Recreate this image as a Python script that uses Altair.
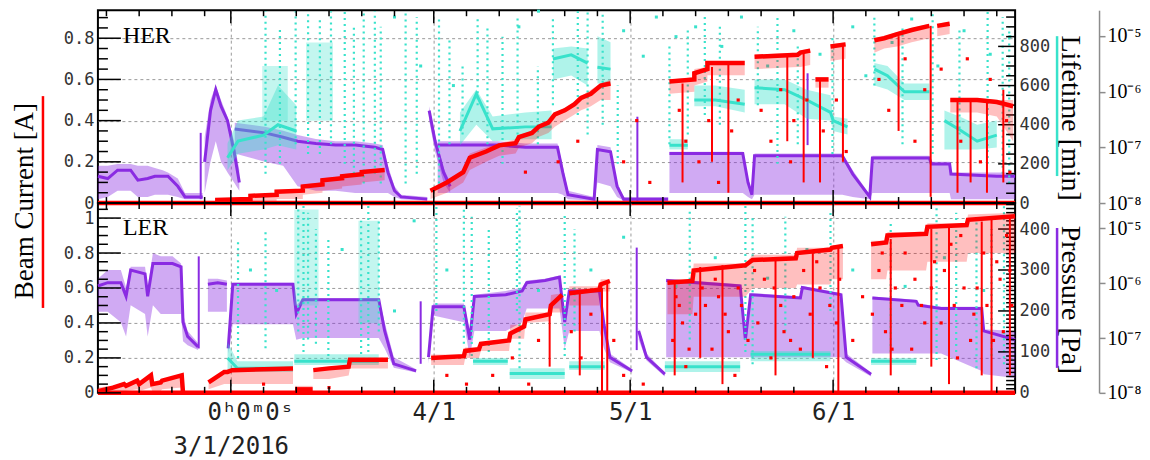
import altair as alt
import pandas as pd

# ---------------------------------------------------------------------------
# Data.  "day" = days since 2016-03-01 00:00.
# Bands: (segment, day, core, low, high)   spikes: (day, low, high)
# Current in A, lifetime in minutes, pressure as log10(P [Pa]).
# ---------------------------------------------------------------------------
HER_RED = [
    (0, -20.3, 0, 0, 0), (0, 119.8, 0, 0, 0),
    (1, -2.4, .015, .0, .02), (1, 3.0, .02, .0, .03), (1, 3.0, .035, .01, .04), (1, 7.0, .04, .01, .05),
    (1, 7.0, .055, .02, .06), (1, 11.0, .06, .02, .07), (1, 11.0, .08, .04, .09), (1, 14.0, .09, .05, .10),
    (1, 14.0, .11, .06, .12), (1, 17.0, .12, .07, .13), (1, 17.0, .13, .08, .14), (1, 20.0, .14, .09, .15),
    (1, 20.0, .15, .10, .16), (1, 23.5, .16, .11, .17),
    (2, 30.5, .06, .02, .07), (2, 33.0, .10, .05, .11), (2, 35.5, .15, .10, .16), (2, 36.5, .22, .16, .24),
    (2, 39.0, .25, .20, .27), (2, 41.0, .28, .23, .29), (2, 43.5, .29, .24, .31), (2, 44.0, .32, .27, .33),
    (2, 46.0, .34, .29, .35), (2, 47.0, .37, .32, .38), (2, 48.5, .39, .34, .40), (2, 49.5, .43, .37, .44),
    (2, 51.0, .45, .40, .46), (2, 52.5, .48, .43, .49), (2, 53.5, .51, .45, .52), (2, 55.0, .53, .47, .55),
    (2, 56.5, .57, .50, .58), (2, 58.0, .58, .50, .60),
    (3, 67.0, .59, .53, .60), (3, 70.8, .60, .54, .61), (3, 70.8, .63, .57, .65), (3, 72.8, .65, .59, .66),
    (3, 72.8, .68, .62, .69), (3, 78.5, .68, .62, .69),
    (4, 80.0, .71, .65, .72), (4, 86.6, .72, .66, .73), (4, 87.0, .73, .66, .74), (4, 88.5, .74, .67, .75),
    (5, 89.3, .60, .56, .61), (5, 91.3, .60, .56, .61),
    (6, 91.6, .76, .69, .77), (6, 93.9, .77, .70, .78),
    (7, 98.3, .79, .73, .80), (7, 99.8, .80, .75, .81), (7, 101.8, .82, .76, .83), (7, 104.0, .84, .78, .85),
    (7, 106.7, .86, .80, .87),
    (8, 107.9, .86, .81, .87), (8, 109.8, .87, .82, .88),
    (9, 109.9, .50, .44, .51), (9, 114.0, .50, .44, .51), (9, 117.0, .49, .42, .50), (9, 119.5, .47, .30, .50),
]
HER_RED_SPIKES = [
    (69.0, .10, .58), (73.5, .20, .66), (76.0, .05, .67), (85.0, .30, .71), (87.5, .10, .74), (90.0, .10, .60),
    (93.5, .20, .77), (102.0, .35, .81), (106.9, .03, .86), (111.0, .05, .50), (113.0, .10, .50),
    (115.5, .05, .50), (118.0, .10, .55),
]
HER_RED_DOTS = [
    (45.0, .15), (50.0, .20), (53.0, .30), (60.0, .20), (62.0, .40), (64.0, .10), (68.5, .45), (69.5, .30),
    (71.5, .20), (73.0, .40), (74.5, .10), (76.5, .35), (77.5, .50), (81.0, .45), (82.5, .30), (84.0, .55),
    (85.5, .20), (86.0, .40), (88.0, .50), (90.5, .35), (92.5, .50), (94.0, .25), (99.0, .60), (100.5, .45),
    (103.0, .70), (104.5, .30), (106.0, .55), (108.5, .65), (111.5, .30), (112.5, .70), (114.5, .20),
    (116.0, .60), (118.5, .40), (119.0, .15),
]

HER_TEAL = [
    (1, -0.5, 231, 168, 305), (1, 1.1, 316, 252, 421), (1, 5.0, 347, 274, 442), (1, 7.2, 400, 295, 600),
    (1, 10.0, 368, 274, 500),
    (3, 35.0, 368, 295, 463), (3, 37.5, 558, 400, 580), (3, 40.0, 379, 316, 442), (3, 45.0, 389, 326, 463),
    (3, 49.0, 389, 326, 473),
    (4, 49.2, 736, 631, 789), (4, 52.0, 757, 652, 800), (4, 54.5, 715, 600, 789),
    (5, 56.0, 694, 610, 852), (5, 58.0, 684, 610, 821),
    (6, 67.0, 295, 274, 326), (6, 69.8, 295, 274, 326),
    (7, 70.8, 526, 494, 600), (7, 74.0, 526, 494, 600), (7, 78.5, 505, 463, 579),
    (8, 80.0, 589, 505, 631), (8, 84.6, 579, 505, 631), (8, 88.0, 526, 431, 579), (8, 91.6, 463, 421, 550),
    (8, 92.0, 421, 368, 442), (8, 94.2, 389, 350, 430),
    (9, 98.3, 684, 600, 715), (9, 100.3, 650, 580, 700), (9, 102.9, 568, 526, 610), (9, 106.7, 568, 526, 610),
    (10, 109.0, 421, 274, 473), (10, 111.5, 370, 274, 440), (10, 114.0, 316, 274, 400), (10, 117.0, 347, 284, 421),
]
HER_TEAL_CLOUDS = [
    (1, 4.8, 420, 700), (1, 8.7, 420, 700),
    (2, 11.5, 420, 820), (2, 15.6, 420, 820),
]
HER_TEAL_STREAKS = [
    (5.3, 150, 980), (7.5, 200, 900), (9.9, 300, 980), (11.8, 250, 980), (13.6, 250, 950), (15.3, 300, 980),
    (17.4, 200, 980), (18.8, 150, 900), (20.3, 100, 980), (22.0, 150, 980), (22.9, 100, 900), (26.7, 100, 980),
    (28.4, 150, 950), (31.8, 100, 950), (33.4, 300, 850), (35.4, 350, 700), (37.7, 500, 950), (39.2, 300, 900),
    (41.5, 200, 850), (43.8, 350, 950), (46.9, 300, 700), (49.2, 500, 950), (53.0, 450, 980), (54.5, 350, 980),
    (56.8, 400, 980), (59.1, 200, 600), (67.0, 300, 800), (69.8, 350, 900), (72.4, 450, 950), (74.7, 400, 900),
    (80.5, 500, 900), (83.5, 200, 950), (86.6, 300, 800), (91.9, 250, 850), (98.3, 600, 950), (102.6, 300, 900),
    (107.2, 250, 980), (111.3, 350, 900), (115.6, 200, 980), (117.9, 150, 950), (118.9, 100, 900),
]
HER_TEAL_DOTS = [
    (25.0, 950), (29.0, 700), (34.0, 600), (44.0, 900), (47.0, 980), (60.0, 880), (63.0, 750), (65.0, 950),
    (68.0, 850), (71.0, 900), (75.0, 800), (78.0, 950), (82.0, 700), (86.0, 880), (90.0, 760), (95.0, 900),
    (97.0, 650), (101.0, 820), (104.0, 940), (108.0, 700), (112.0, 880), (116.0, 760), (119.0, 850),
]

HER_PURPLE = [
    (1, -20.3, -7.52, -7.93, -7.33), (1, -18.8, -7.56, -7.89, -7.33), (1, -17.3, -7.41, -7.78, -7.30),
    (1, -15.3, -7.41, -7.78, -7.30), (1, -14.2, -7.59, -7.89, -7.33), (1, -12.7, -7.56, -7.89, -7.33),
    (1, -11.6, -7.52, -7.85, -7.37), (1, -10.4, -7.52, -7.85, -7.41), (1, -9.6, -7.52, -7.85, -7.45),
    (1, -8.1, -7.70, -7.89, -7.56), (1, -7.0, -7.89, -7.93, -7.82), (1, -4.3, -7.89, -7.93, -7.82),
    (2, -4.0, -7.26, -7.82, -6.82), (2, -3.1, -6.34, -7.26, -6.15), (2, -2.3, -5.96, -6.89, -5.89),
    (2, -1.5, -6.26, -7.26, -6.15), (2, -0.5, -6.52, -7.45, -6.45), (2, 0.5, -7.08, -7.63, -6.89),
    (2, 1.3, -7.63, -7.78, -7.41),
    (3, 0.6, -6.67, -7.11, -6.56), (3, 5.2, -6.74, -7.26, -6.63), (3, 8.0, -6.82, -7.33, -6.70),
    (3, 10.2, -6.89, -7.70, -6.78), (3, 13.0, -6.93, -7.78, -6.85), (3, 16.0, -6.96, -7.78, -6.89),
    (3, 19.0, -6.96, -7.82, -6.89), (3, 22.0, -7.00, -7.82, -6.93), (3, 23.2, -7.04, -7.82, -6.96),
    (3, 24.0, -7.45, -7.82, -7.33), (3, 25.0, -7.78, -7.89, -7.70), (3, 26.0, -7.89, -7.93, -7.85),
    (3, 30.0, -7.93, -7.96, -7.89),
    (4, 30.3, -6.34, -6.52, -6.26), (4, 31.2, -6.89, -7.08, -6.78), (4, 32.5, -7.45, -7.63, -7.37),
    (4, 33.5, -7.70, -7.82, -7.63),
    (5, 31.6, -6.96, -7.82, -6.89), (5, 40.8, -6.96, -7.82, -6.89), (5, 45.0, -7.00, -7.82, -6.93),
    (5, 49.9, -7.00, -7.82, -6.93), (5, 50.7, -7.45, -7.85, -7.33), (5, 51.5, -7.85, -7.93, -7.78),
    (5, 55.5, -7.93, -7.96, -7.89), (5, 56.0, -7.04, -7.63, -6.96), (5, 58.0, -7.08, -7.70, -7.00),
    (5, 59.0, -7.70, -7.89, -7.63), (5, 60.0, -7.93, -7.96, -7.89), (5, 66.8, -7.93, -7.96, -7.89),
    (6, 67.0, -7.11, -7.82, -7.08), (6, 78.2, -7.11, -7.82, -7.08), (6, 79.0, -7.63, -7.89, -7.56),
    (6, 79.6, -7.85, -7.93, -7.82), (6, 80.0, -7.15, -7.85, -7.11), (6, 93.4, -7.15, -7.85, -7.11),
    (6, 95.0, -7.48, -7.89, -7.41), (6, 97.6, -7.89, -7.93, -7.85), (6, 98.0, -7.19, -7.82, -7.15),
    (6, 106.7, -7.19, -7.82, -7.15), (6, 107.0, -7.30, -7.82, -7.26), (6, 109.8, -7.30, -7.82, -7.26),
    (6, 110.0, -7.48, -7.93, -7.45), (6, 117.0, -7.52, -7.93, -7.45), (6, 119.8, -7.52, -7.93, -7.45),
]
HER_PURPLE_SPIKES = [(-4.6, -7.93, -6.74), (62.1, -7.96, -6.45), (88.1, -6.96, -5.67)]

LER_RED = [
    (0, -20.3, 0, 0, 0), (0, 119.8, 0, 0, 0),
    (1, -20.3, .01, .0, .03), (1, -18.0, .03, .0, .04), (1, -16.3, .05, .01, .06), (1, -16.0, .04, .01, .05),
    (1, -14.3, .07, .02, .08), (1, -14.0, .05, .01, .06), (1, -12.2, .10, .03, .11), (1, -12.0, .05, .01, .06),
    (1, -10.7, .06, .01, .07), (1, -10.5, .07, .02, .08), (1, -7.5, .10, .03, .10), (1, -7.3, .0, .0, .01),
    (2, -3.4, .06, .02, .07), (2, -1.0, .12, .05, .12), (2, -0.5, .12, .05, .12), (2, 0.2, .13, .05, .14),
    (2, 9.5, .14, .05, .15),
    (3, 9.8, .02, .0, .04), (3, 12.5, .02, .0, .04),
    (4, 12.6, .13, .08, .14), (4, 15.0, .14, .08, .15), (4, 18.0, .15, .10, .16), (4, 18.2, .19, .14, .20),
    (4, 24.0, .19, .14, .20),
    (5, 30.6, .20, .16, .22), (5, 35.6, .21, .16, .22), (5, 35.8, .24, .20, .26), (5, 37.9, .25, .20, .26),
    (5, 38.2, .28, .24, .29), (5, 42.5, .30, .24, .31), (5, 42.7, .34, .31, .39), (5, 44.8, .38, .31, .39),
    (5, 45.0, .42, .40, .46), (5, 48.7, .45, .41, .46), (5, 48.9, .50, .46, .56), (5, 50.6, .56, .46, .57),
    (6, 51.7, .57, .50, .61), (6, 56.3, .59, .50, .61), (6, 56.5, .62, .58, .65), (6, 57.9, .64, .58, .65),
    (7, 66.7, .63, .45, .65), (7, 70.5, .64, .45, .65), (7, 70.7, .70, .55, .74), (7, 78.6, .73, .55, .74),
    (7, 79.7, .76, .60, .79), (7, 86.3, .77, .60, .79), (7, 86.5, .80, .62, .83), (7, 91.6, .82, .62, .83),
    (7, 91.8, .83, .65, .84), (7, 93.5, .84, .65, .85),
    (8, 97.8, .85, .65, .87), (8, 100.1, .86, .65, .87), (8, 100.3, .90, .70, .92), (8, 106.2, .91, .70, .92),
    (8, 106.4, .95, .75, .97), (8, 112.4, .96, .75, .97), (8, 112.6, .99, .80, 1.02), (8, 119.8, 1.01, .80, 1.03),
]
LER_RED_SPIKES = [
    (48.7, .15, .45), (53.3, .10, .59), (56.7, .0, .60), (57.5, .0, .64), (67.8, .10, .63), (71.7, .20, .72),
    (75.1, .05, .73), (83.2, .10, .77), (88.9, .20, .80), (92.8, .0, .84), (100.8, .10, .88), (107.0, .15, .94),
    (109.7, .05, .95), (114.7, .10, .98), (116.2, .0, .99), (119.0, .10, 1.0),
]
LER_RED_DOTS = [
    (5.0, .05), (15.0, .03), (33.0, .10), (36.0, .05), (40.0, .10), (43.0, .20), (45.5, .05), (47.0, .30),
    (52.0, .35), (53.5, .20), (55.0, .45), (58.5, .30), (60.0, .10), (63.0, .05), (67.5, .30), (68.5, .50),
    (69.5, .15), (71.0, .45), (72.0, .60), (73.5, .25), (74.5, .55), (76.0, .35), (77.0, .10), (78.0, .50),
    (80.5, .40), (81.5, .65), (82.5, .20), (84.0, .50), (85.5, .30), (87.5, .70), (88.5, .45), (90.0, .60),
    (91.0, .15), (92.5, .40), (95.0, .30), (96.5, .55), (99.0, .70), (100.0, .35), (101.5, .60), (103.0, .80),
    (104.0, .25), (105.5, .50), (107.5, .75), (108.5, .40), (110.0, .85), (111.0, .20), (112.0, .60),
    (113.5, .45), (115.0, .80), (116.5, .30), (117.5, .65), (118.5, .90), (119.3, .50),
    (68.0, .55), (69.0, .40), (70.0, .25), (72.5, .50), (74.0, .65), (75.5, .45), (77.5, .60), (79.0, .30),
    (80.0, .70), (83.0, .60), (84.5, .35), (86.0, .55), (87.0, .25), (89.5, .75), (91.5, .50), (93.0, .65),
    (98.0, .45), (99.5, .80), (101.0, .25), (102.5, .50), (104.5, .65), (106.0, .40), (107.0, .60),
    (109.0, .70), (110.5, .50), (111.5, .90), (113.0, .30), (114.0, .60), (115.5, .50), (117.0, .75),
    (118.0, .35), (119.0, .70),
]

LER_TEAL = [
    (1, -0.5, 85, 56, 124), (1, 1.0, 60, 51, 77), (1, 9.5, 60, 51, 77),
    (2, 9.7, 77, 68, 94), (2, 22.6, 77, 68, 94),
    (3, 37.0, 77, 68, 85), (3, 42.3, 77, 68, 85),
    (4, 42.6, 47, 34, 60), (4, 51.0, 47, 34, 60),
    (5, 51.7, 64, 56, 77), (5, 57.1, 64, 56, 77),
    (6, 66.3, 64, 51, 77), (6, 77.8, 64, 51, 77),
    (7, 79.4, 94, 77, 102), (7, 91.6, 94, 77, 102),
    (8, 97.8, 77, 68, 85), (8, 104.7, 77, 68, 85),
]
LER_TEAL_CLOUDS = [
    (1, 9.7, 213, 448), (1, 13.4, 213, 448),
    (2, 19.5, 170, 420), (2, 22.6, 170, 420),
]
LER_TEAL_STREAKS = [
    (1.1, 85, 376), (5.3, 109, 393), (10.3, 150, 457), (11.1, 100, 457), (11.8, 130, 440), (13.0, 120, 400),
    (14.9, 90, 380), (19.9, 80, 420), (21.0, 100, 457), (22.6, 150, 420), (31.4, 200, 457), (35.6, 120, 457),
    (36.8, 90, 430), (39.4, 100, 400), (43.7, 200, 450), (44.1, 60, 457), (51.0, 90, 440), (52.5, 150, 400),
    (70.1, 130, 450), (78.6, 100, 457), (79.7, 70, 430), (84.7, 150, 430), (91.6, 200, 440), (100.8, 100, 420),
    (107.8, 80, 457), (110.8, 100, 440), (113.9, 60, 420), (116.2, 90, 400), (118.1, 70, 457),
]
LER_TEAL_DOTS = [
    (3.0, 300), (7.0, 250), (17.0, 350), (25.0, 200), (28.0, 420), (33.0, 300), (47.0, 250), (55.0, 300),
    (60.0, 380), (68.0, 260), (74.0, 330), (82.0, 280), (88.0, 350), (95.0, 300), (103.0, 260), (109.0, 330),
    (115.0, 250), (119.0, 310),
]

LER_PURPLE = [
    (1, -20.3, -6.05, -6.52, -5.92), (1, -18.8, -5.99, -6.52, -5.76), (1, -16.8, -5.99, -6.71, -5.76),
    (1, -16.0, -6.24, -6.97, -6.08), (1, -15.3, -5.76, -6.40, -5.70), (1, -13.1, -5.83, -6.56, -5.70),
    (1, -12.7, -6.24, -6.97, -6.08), (1, -11.9, -5.64, -6.40, -5.45), (1, -10.7, -5.64, -6.56, -5.51),
    (1, -8.9, -5.64, -6.56, -5.51), (1, -7.6, -5.70, -6.56, -5.64), (1, -7.3, -6.71, -7.06, -6.56),
    (1, -6.6, -6.97, -7.13, -6.87), (1, -5.0, -7.16, -7.22, -7.09),
    (2, -3.5, -6.02, -6.52, -5.92), (2, -2.0, -5.99, -6.52, -5.92), (2, -0.6, -6.02, -6.52, -5.95),
    (3, -0.4, -7.19, -7.28, -7.03), (3, 0.3, -6.02, -6.75, -5.99), (3, 5.0, -6.02, -6.75, -5.99),
    (3, 9.5, -6.02, -6.75, -5.99), (3, 10.0, -6.56, -7.03, -6.40), (3, 11.0, -6.30, -7.00, -6.27),
    (3, 16.0, -6.30, -7.00, -6.27), (3, 22.6, -6.30, -7.00, -6.27), (3, 23.5, -6.87, -7.19, -6.71),
    (3, 24.9, -7.47, -7.54, -7.35), (3, 28.3, -7.60, -7.63, -7.57),
    (4, 30.2, -7.35, -7.47, -7.28), (4, 30.9, -6.43, -6.59, -6.37), (4, 35.6, -6.43, -6.71, -6.37),
    (4, 36.5, -7.03, -7.35, -6.87), (4, 37.2, -6.24, -6.87, -6.21), (4, 42.0, -6.21, -6.87, -6.14),
    (4, 44.5, -6.14, -6.71, -6.08), (4, 45.2, -5.99, -6.46, -5.95), (4, 48.0, -5.95, -6.46, -5.92),
    (4, 50.2, -5.89, -6.46, -5.86), (4, 51.0, -6.71, -7.19, -6.56), (4, 51.7, -6.14, -6.87, -6.11),
    (4, 56.3, -6.14, -6.87, -6.11), (4, 57.0, -6.75, -7.19, -6.71), (4, 57.9, -7.35, -7.44, -7.28),
    (4, 61.3, -7.60, -7.63, -7.57),
    (5, 62.3, -6.87, -7.03, -6.81), (5, 63.5, -7.35, -7.41, -7.28), (5, 66.3, -7.66, -7.70, -7.63),
    (6, 66.5, -5.95, -7.35, -5.92), (6, 77.8, -6.05, -7.35, -6.02), (6, 78.6, -7.03, -7.35, -6.87),
    (6, 79.4, -6.21, -7.35, -6.18), (6, 87.0, -6.27, -7.35, -6.24), (6, 87.3, -6.08, -7.35, -6.05),
    (6, 93.2, -6.21, -7.35, -6.18), (6, 94.0, -7.35, -7.44, -7.28), (6, 97.8, -7.66, -7.70, -7.63),
    (7, 98.0, -6.27, -7.28, -6.24), (7, 104.7, -6.33, -7.28, -6.30), (7, 105.0, -6.40, -7.28, -6.37),
    (7, 108.5, -6.46, -7.28, -6.43), (7, 114.7, -6.46, -7.60, -6.43), (7, 115.0, -6.87, -7.66, -6.84),
    (7, 119.8, -7.03, -7.73, -6.87),
]
LER_PURPLE_SPIKES = [(-4.9, -7.19, -5.51), (29.0, -7.47, -6.33), (62.0, -7.22, -5.35)]

# axis tick values and labels
MONTH_TICKS = ["2016-03-01T00:00:00", "2016-04-01T00:00:00", "2016-05-01T00:00:00", "2016-06-01T00:00:00"]
MINOR_TICKS = ["2016-02-%02dT00:00:00" % d for d in (11, 16, 21, 26)] + [
    "2016-%02d-%02dT00:00:00" % (m, d) for m in (3, 4, 5, 6) for d in (6, 11, 16, 21, 26)]
TIME_LABEL = "0ʰ0ᵐ0ˢ"
HER_CUR_MAJOR = [0, 0.2, 0.4, 0.6, 0.8]
HER_CUR_MINOR = [0.05, 0.1, 0.15, 0.25, 0.3, 0.35, 0.45, 0.5, 0.55, 0.65, 0.7, 0.75, 0.85, 0.9]
LER_CUR_MAJOR = [0, 0.2, 0.4, 0.6, 0.8, 1.0]
LER_CUR_MINOR = [0.05, 0.1, 0.15, 0.25, 0.3, 0.35, 0.45, 0.5, 0.55, 0.65, 0.7, 0.75, 0.85, 0.9, 0.95, 1.05]
HER_LIFE_MAJOR = [0, 200, 400, 600, 800]
HER_LIFE_MINOR = [50, 100, 150, 250, 300, 350, 450, 500, 550, 650, 700, 750, 850, 900, 950]
LER_LIFE_MAJOR = [0, 100, 200, 300, 400]
LER_LIFE_MINOR = [v for v in range(10, 461, 10) if v % 100]
LOG_TICKS = [-8, -7, -6, -5]

# ---------------------------------------------------------------------------
RED = "#ff0000"
TEAL = "#38e2cb"
PURPLE = "#8a2be2"
MONO = "DejaVu Sans Mono"
SERIF = "Liberation Serif"
W = 918
H_TOP = 193
H_BOT = 190
T0 = pd.Timestamp("2016-03-01")

XSCALE = alt.Scale(domain=[alt.DateTime(year=2016, month=2, date=9, hours=16, minutes=48),
                           alt.DateTime(year=2016, month=6, date=28, hours=19, minutes=12)])


def iso(days):
    return [(T0 + pd.to_timedelta(float(d), unit="D")).strftime("%Y-%m-%dT%H:%M:%S") for d in days]


def band_df(rows):
    df = pd.DataFrame(rows, columns=["seg", "day", "core", "lo", "hi"])
    df["t"] = iso(df["day"])
    df["i"] = range(len(df))
    return df


def cloud_df(rows):
    df = pd.DataFrame(rows, columns=["seg", "day", "lo", "hi"])
    df["t"] = iso(df["day"])
    return df


def spike_df(rows):
    df = pd.DataFrame(rows, columns=["day", "lo", "hi"])
    df["t"] = iso(df["day"])
    return df


def dot_df(rows):
    df = pd.DataFrame(rows, columns=["day", "v"])
    df["t"] = iso(df["day"])
    return df


def X(axis=None):
    return alt.X("t:T", scale=XSCALE, axis=axis)


def text_layer(txt, x, y, size, angle=0, align="left", baseline="alphabetic", font=SERIF):
    mk = dict(font=font, fontSize=size, align=align, baseline=baseline, color="black")
    if angle:
        mk["angle"] = angle
    return alt.Chart(pd.DataFrame({"s": [txt]})).mark_text(**mk).encode(
        x=alt.value(x), y=alt.value(y), text="s:N")


def vline(x, y1, y2, color):
    return alt.Chart(pd.DataFrame({"k": [0]})).mark_rule(color=color, strokeWidth=2.5).encode(
        x=alt.value(x), y=alt.value(y1), y2=alt.value(y2))


def panel(red, red_spikes, red_dots, teal, teal_clouds, teal_streaks, teal_dots, purple, purple_spikes,
          cur_domain, cur_major, cur_minor, life_domain, life_major, life_minor, H, bottom, deco):
    month_vals = [alt.DateTime(year=2016, month=m, date=1) for m in (3, 4, 5, 6)]
    extra = []
    if bottom:
        xaxis = alt.Axis(values=month_vals, orient="bottom",
                         grid=True, gridDash=[3, 3], gridColor="#9a9a9a", ticks=False, domain=False,
                         title=None, labelFont=MONO, labelFontSize=24, labelColor="#222",
                         labelPadding=8, labelLineHeight=34,
                         labelExpr="month(datum.value) == 2 ? [' ', '3/1/2016'] : "
                                   "(month(datum.value) + 1) + '/1'")
        extra.append(
            alt.Chart(pd.DataFrame({"t": [MONTH_TICKS[0]], "s": [TIME_LABEL]})).mark_text(
                font=MONO, fontSize=24, color="#222", align="center", baseline="top", dx=20
            ).encode(x=X(), y=alt.value(H + 8), text="s:N"))
    else:
        xaxis = alt.Axis(values=month_vals, orient="bottom",
                         grid=True, gridDash=[3, 3], gridColor="#9a9a9a", ticks=False, domain=False,
                         labels=False, title=None)

    # every layer has an explicit scale domain, so independent scales map identically
    rs = alt.Scale(domain=cur_domain, nice=False, zero=False)
    ts = alt.Scale(domain=life_domain, nice=False, zero=False)
    ps = alt.Scale(domain=[-8, -4.537], nice=False, zero=False)

    # --- pressure (log axis, far right)
    pdf = band_df(purple)
    paxis = alt.Axis(orient="right", offset=84, values=LOG_TICKS, title=None, grid=False,
                     domainColor="#8c8c8c", domainWidth=1.5, tickColor="#8c8c8c", tickWidth=1.5, tickSize=6,
                     labelFont=SERIF, labelFontSize=20, labelColor="black", labelPadding=2,
                     labelExpr="'10' + (datum.value == -5 ? '⁻⁵' : datum.value == -6 ? '⁻⁶' : "
                               "datum.value == -7 ? '⁻⁷' : '⁻⁸')")
    p_area = alt.Chart(pdf).mark_area(color=PURPLE, opacity=0.4).encode(
        x=X(xaxis), y=alt.Y("lo:Q", scale=ps, axis=paxis), y2="hi:Q", detail="seg:N")
    p_line = alt.Chart(pdf).mark_line(color=PURPLE, strokeWidth=3).encode(
        x=X(), y=alt.Y("core:Q", scale=ps, axis=None), detail="seg:N", order="i:Q")
    p_sp = alt.Chart(spike_df(purple_spikes)).mark_rule(color=PURPLE, strokeWidth=2).encode(
        x=X(), y=alt.Y("lo:Q", scale=ps, axis=None), y2="hi:Q")

    # --- lifetime (right axis)
    tdf = band_df(teal)
    taxis = alt.Axis(orient="right", values=life_major, ticks=False, domain=False, grid=False, title=None,
                     labelFont=MONO, labelFontSize=17, labelColor="#333", labelPadding=4)
    t_cloud = alt.Chart(cloud_df(teal_clouds)).mark_area(color=TEAL, opacity=0.3).encode(
        x=X(), y=alt.Y("lo:Q", scale=ts, axis=taxis), y2="hi:Q", detail="seg:N")
    t_area = alt.Chart(tdf).mark_area(color=TEAL, opacity=0.4).encode(
        x=X(), y=alt.Y("lo:Q", scale=ts, axis=None), y2="hi:Q", detail="seg:N")
    t_line = alt.Chart(tdf).mark_line(color=TEAL, strokeWidth=3).encode(
        x=X(), y=alt.Y("core:Q", scale=ts, axis=None), detail="seg:N", order="i:Q")
    t_st = alt.Chart(spike_df(teal_streaks)).mark_rule(color=TEAL, strokeWidth=2.2, strokeDash=[2, 4]).encode(
        x=X(), y=alt.Y("lo:Q", scale=ts, axis=None), y2="hi:Q")
    t_dt = alt.Chart(dot_df(teal_dots)).mark_square(color=TEAL, size=9, opacity=1).encode(
        x=X(), y=alt.Y("v:Q", scale=ts, axis=None))
    rt_major = alt.Chart(pd.DataFrame({"v": life_major})).mark_rule(color="black", strokeWidth=1.5).encode(
        x=alt.value(W), x2=alt.value(W - 17), y=alt.Y("v:Q", scale=ts, axis=None))
    rt_minor = alt.Chart(pd.DataFrame({"v": life_minor})).mark_rule(color="black", strokeWidth=1.5).encode(
        x=alt.value(W), x2=alt.value(W - 9), y=alt.Y("v:Q", scale=ts, axis=None))

    # --- beam current (left axis)
    rdf = band_df(red)
    yaxis = alt.Axis(orient="left", values=cur_major, format="~g", grid=True, gridDash=[3, 3],
                     gridColor="#9a9a9a", ticks=False, domain=False, title=None, labelFont=MONO,
                     labelFontSize=17, labelColor="#333", labelPadding=4)
    red_area = alt.Chart(rdf).mark_area(color=RED, opacity=0.25).encode(
        x=X(), y=alt.Y("lo:Q", scale=rs, axis=yaxis), y2="hi:Q", detail="seg:N")
    red_line = alt.Chart(rdf).mark_line(color=RED, strokeWidth=4.5, strokeCap="butt").encode(
        x=X(), y=alt.Y("core:Q", scale=rs, axis=None), detail="seg:N", order="i:Q")
    red_sp = alt.Chart(spike_df(red_spikes)).mark_rule(color=RED, strokeWidth=2).encode(
        x=X(), y=alt.Y("lo:Q", scale=rs, axis=None), y2="hi:Q")
    red_dt = alt.Chart(dot_df(red_dots)).mark_square(color=RED, size=10, opacity=1).encode(
        x=X(), y=alt.Y("v:Q", scale=rs, axis=None))
    lt_major = alt.Chart(pd.DataFrame({"v": cur_major})).mark_rule(color="black", strokeWidth=1.5).encode(
        x=alt.value(0), x2=alt.value(23), y=alt.Y("v:Q", scale=rs, axis=None))
    lt_minor = alt.Chart(pd.DataFrame({"v": cur_minor})).mark_rule(color="black", strokeWidth=1.5).encode(
        x=alt.value(0), x2=alt.value(10), y=alt.Y("v:Q", scale=rs, axis=None))

    mt = pd.DataFrame({"t": MONTH_TICKS})
    nt = pd.DataFrame({"t": MINOR_TICKS})
    xt = [
        alt.Chart(mt).mark_rule(color="black", strokeWidth=1.5).encode(x=X(), y=alt.value(0), y2=alt.value(13)),
        alt.Chart(mt).mark_rule(color="black", strokeWidth=1.5).encode(x=X(), y=alt.value(H), y2=alt.value(H - 13)),
        alt.Chart(nt).mark_rule(color="black", strokeWidth=1.5).encode(x=X(), y=alt.value(0), y2=alt.value(6)),
        alt.Chart(nt).mark_rule(color="black", strokeWidth=1.5).encode(x=X(), y=alt.value(H), y2=alt.value(H - 6)),
    ]

    layers = [p_area, p_sp, p_line,
              t_cloud, t_area, t_st, t_dt, t_line, rt_major, rt_minor,
              red_area, red_sp, red_dt, red_line, lt_major, lt_minor] + xt + deco + extra
    return alt.layer(*layers).resolve_scale(x="independent", y="independent").properties(width=W, height=H)


deco_top = [
    text_layer("HER", 25, 33, 24),
    text_layer("Beam Current [A]", -73, 191, 27, angle=270, align="center", baseline="middle"),
    vline(-55, 86, 298, RED),
    text_layer("Lifetime [min]", 973, 108, 28, angle=90, align="center", baseline="middle"),
    vline(960, 26, 166, TEAL),
]
deco_bot = [
    text_layer("LER", 25, 32, 24),
    text_layer("Pressure [Pa]", 973, 97, 28, angle=90, align="center", baseline="middle"),
    vline(960, 25, 165, PURPLE),
]

top = panel(HER_RED, HER_RED_SPIKES, HER_RED_DOTS, HER_TEAL, HER_TEAL_CLOUDS, HER_TEAL_STREAKS, HER_TEAL_DOTS,
            HER_PURPLE, HER_PURPLE_SPIKES, [0, 0.936], HER_CUR_MAJOR, HER_CUR_MINOR, [0, 985],
            HER_LIFE_MAJOR, HER_LIFE_MINOR, H_TOP, False, deco_top)
bot = panel(LER_RED, LER_RED_SPIKES, LER_RED_DOTS, LER_TEAL, LER_TEAL_CLOUDS, LER_TEAL_STREAKS, LER_TEAL_DOTS,
            LER_PURPLE, LER_PURPLE_SPIKES, [0, 1.086], LER_CUR_MAJOR, LER_CUR_MINOR, [0, 463.5],
            LER_LIFE_MAJOR, LER_LIFE_MINOR, H_BOT, True, deco_bot)

chart = alt.vconcat(top, bot, spacing=0, bounds="flush").properties(
    padding={"left": 2, "top": 0, "right": 0, "bottom": 0}
).configure_view(stroke="black", strokeWidth=2)

chart.save("out.html", embed_options={"renderer": "svg", "actions": False})
